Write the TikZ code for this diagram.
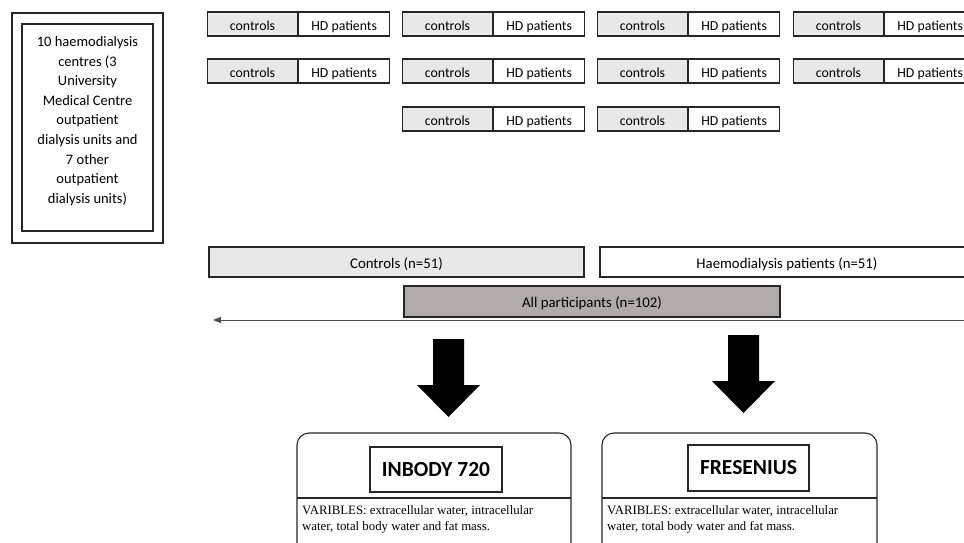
\documentclass[tikz,border=0pt]{standalone}
\usepackage{fontspec}
\setmainfont{Carlito}
\newfontfamily\timesfont{Liberation Serif}
\usetikzlibrary{positioning, arrows.meta}

\definecolor{cellgray}{HTML}{E8E8E8}
\definecolor{allgray}{HTML}{B1ACAB}

\tikzset{
  cellbox/.style={draw=black!85, line width=1.1pt, minimum height=24pt,
    inner sep=0pt, text height=13pt, text depth=0pt,
    font=\fontsize{13.8}{15}\selectfont},
  ctrlcell/.style={cellbox, fill=cellgray, minimum width=90pt},
  hdcell/.style={cellbox, fill=white, minimum width=91pt},
  groupbar/.style={draw=black!85, line width=1.1pt, minimum height=30pt,
    inner sep=0pt, text height=12.5pt, text depth=0pt,
    font=\fontsize{14.8}{16}\selectfont},
  devicebox/.style={draw=black!85, line width=1.1pt, inner sep=0pt,
    font=\fontsize{21.5}{23}\bfseries\selectfont},
  vartext/.style={anchor=north west, inner sep=0pt, align=left,
    font=\timesfont\fontsize{12.8}{16.5}\selectfont}
}

\begin{document}
\begin{tikzpicture}[x=1pt, y=-1pt]
\useasboundingbox (0,0) rectangle (964,543);
% Centres box
\draw[black!85, line width=1.1pt] (12,13) rectangle (163,243);
\draw[black!85, line width=1.1pt] (22,24) rectangle (153,231);
\node[inner sep=0pt, align=center,
  font=\fontsize{14.5}{19.6}\selectfont] (centres) at (87.5,121)
  {10 haemodialysis\\ centres (3\\ University\\ Medical Centre\\ outpatient\\
   dialysis units and\\ 7 other\\ outpatient\\ dialysis units)};
% Unit cells: controls | HD patients
\foreach \x [count=\i] in {207,402,597,793} {
  \foreach \y [count=\j] in {24,71} {
    \node[ctrlcell, anchor=west] (c\i\j) at (\x,\y) {controls};
    \node[hdcell, right=0pt of c\i\j] (h\i\j) {HD patients};
  }
}
\foreach \x [count=\i from 2] in {402,597} {
  \node[ctrlcell, anchor=west] (c\i3) at (\x,119) {controls};
  \node[hdcell, right=0pt of c\i3] (h\i3) {HD patients};
}
% Groups
\node[groupbar, fill=cellgray, minimum width=375pt] (controls) at (396.5,262) {Controls (n=51)};
\node[groupbar, fill=white, minimum width=374pt] (patients) at (787,262) {Haemodialysis patients (n=51)};
\node[groupbar, fill=allgray, minimum width=376pt, minimum height=31pt] (all) at (592,301.5) {All participants (n=102)};
% Timeline arrow
\coordinate (lineR) at (966,320);
\coordinate (lineL) at (213,320);
\draw[black!70, line width=0.9pt, -{Triangle[length=8pt, width=6pt]}] (lineR) -- (lineL);
% Block arrows
\fill (433,339) -- (464,339) -- (464,385) -- (480,385) -- (448.5,417)
  -- (417,385) -- (433,385) -- cycle;
\fill (728,335) -- (759,335) -- (759,381) -- (775,381) -- (743.5,413)
  -- (712,381) -- (728,381) -- cycle;
% Device panels
\draw[black!85, line width=1.1pt, rounded corners=12pt]
  (297,560) -- (297,433) -- (571,433) -- (571,560);
\draw[black!85, line width=1.1pt] (297,498) -- (571,498);
\node[devicebox, minimum width=132pt, minimum height=45pt] (inbody) at (436,469.5) {INBODY 720};
\node[vartext] (inbodyvars) at (302,505)
  {VARIBLES: extracellular water, intracellular\\ water, total body water and fat mass.};
\draw[black!85, line width=1.1pt, rounded corners=12pt]
  (602,560) -- (602,433) -- (877,433) -- (877,560);
\draw[black!85, line width=1.1pt] (602,498) -- (877,498);
\node[devicebox, minimum width=121pt, minimum height=46pt] (fresenius) at (748.5,468) {FRESENIUS};
\node[vartext] (freseniusvars) at (607,505)
  {VARIBLES: extracellular water, intracellular\\ water, total body water and fat mass.};
\end{tikzpicture}
\end{document}
